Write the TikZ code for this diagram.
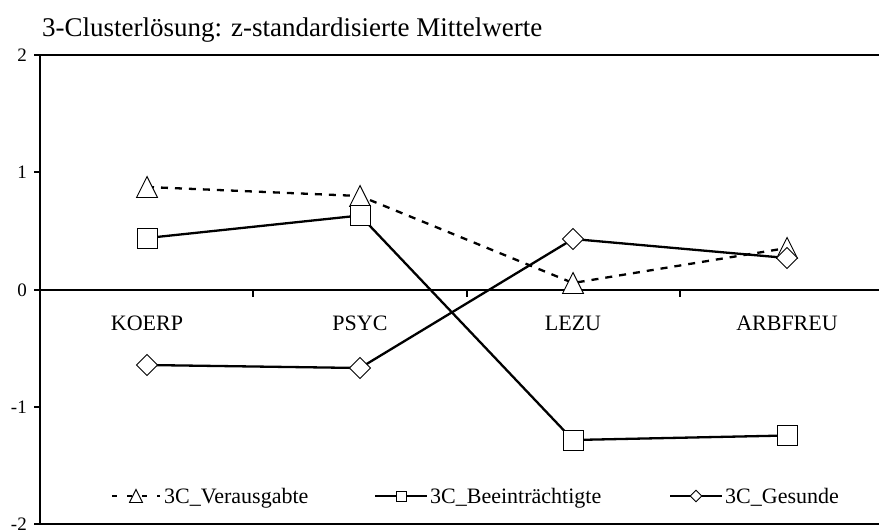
\documentclass[tikz,border=0pt]{standalone}
\usepackage{fontspec}
\setmainfont{Liberation Serif}
\begin{document}
\begin{tikzpicture}[x=1pt,y=-1pt,
  axis/.style={line width=1.2pt},
  series/.style={line width=2.3pt},
  dashser/.style={series, dash pattern=on 7pt off 7pt},
  mk/.style={draw, fill=white, line width=0.9pt},
  ticklab/.style={anchor=east, inner sep=0pt, font=\fontsize{19}{19}\selectfont},
  catlab/.style={anchor=base, inner sep=0pt, font=\fontsize{22}{22}\selectfont},
  leglab/.style={anchor=base west, inner sep=0pt, font=\fontsize{22}{22}\selectfont},
  tri/.pic={\path[mk] (-10.5,10.5) -- (10.5,10.5) -- (0,-10.5) -- cycle;},
  sq/.pic={\path[mk] (-10,-10) rectangle (10,10);},
  dia/.pic={\path[mk] (-10.5,0) -- (0,-10.5) -- (10.5,0) -- (0,10.5) -- cycle;}]
\useasboundingbox (0,0) rectangle (879,531);

% title
\node[anchor=base west, inner sep=0pt, font=\fontsize{27}{27}\selectfont] (title) at (42,36)
  {3-Clusterlösung: z-standardisierte Mittelwerte};

% axes and frame lines
\coordinate (ytop) at (40,55);
\coordinate (ybot) at (40,524);
\draw[axis] (ytop) -- (ybot);
\foreach \yy in {55,290,524} \draw[axis] (34,\yy) -- (879,\yy);
\foreach \yy in {172,407} \draw[axis] (34,\yy) -- (40,\yy);
\foreach \xx in {253,467,680} \draw[axis] (\xx,290) -- (\xx,297);

% value labels
\node[ticklab] (l2)  at (27,55)  {2};
\node[ticklab] (l1)  at (27,172) {1};
\node[ticklab] (l0)  at (27,290) {0};
\node[ticklab] (lm1) at (27,407) {-1};
\node[ticklab] (lm2) at (27,524) {-2};

% category labels
\node[catlab] (c1) at (147,330) {KOERP};
\node[catlab] (c2) at (360,330) {PSYC};
\node[catlab] (c3) at (573,330) {LEZU};
\node[catlab] (c4) at (787,330) {ARBFREU};

% data points
\coordinate (v1) at (147,187);   \coordinate (v2) at (360,196);
\coordinate (v3) at (573,283);   \coordinate (v4) at (787,248);
\coordinate (b1) at (147,238);   \coordinate (b2) at (360,215.5);
\coordinate (b3) at (573,440);   \coordinate (b4) at (787,435.5);
\coordinate (g1) at (147,365);   \coordinate (g2) at (360,368);
\coordinate (g3) at (573,239);   \coordinate (g4) at (787,258);

% series 3C_Verausgabte
\draw[dashser] (v1) -- (v2) -- (v3) -- (v4);
\foreach \p in {v1,v2,v3,v4} \pic at (\p) {tri};
% series 3C_Beeintraechtigte
\draw[series] (b1) -- (b2) -- (b3) -- (b4);
\foreach \p in {b1,b2,b3,b4} \pic at (\p) {sq};
% series 3C_Gesunde
\draw[series] (g1) -- (g2) -- (g3) -- (g4);
\foreach \p in {g1,g2,g3,g4} \pic at (\p) {dia};

% legend
\coordinate (la) at (112,496); \coordinate (lb) at (160,496); \coordinate (lc) at (136,496);
\draw[series, dash pattern=on 5pt off 10pt] (la) -- (lb);
\pic[scale=0.62] at (lc) {tri};
\node[leglab] (t1) at (164,503) {3C\_Verausgabte};

\coordinate (ma) at (375,496); \coordinate (mb) at (427,496); \coordinate (mc) at (401,496);
\draw[series] (ma) -- (mb);
\pic[scale=0.5] at (mc) {sq};
\node[leglab] (t2) at (430,503) {3C\_Beeinträchtigte};

\coordinate (na) at (670,496); \coordinate (nb) at (722,496); \coordinate (nc) at (696,496);
\draw[series] (na) -- (nb);
\pic[scale=0.55] at (nc) {dia};
\node[leglab] (t3) at (725,503) {3C\_Gesunde};
\end{tikzpicture}
\end{document}
